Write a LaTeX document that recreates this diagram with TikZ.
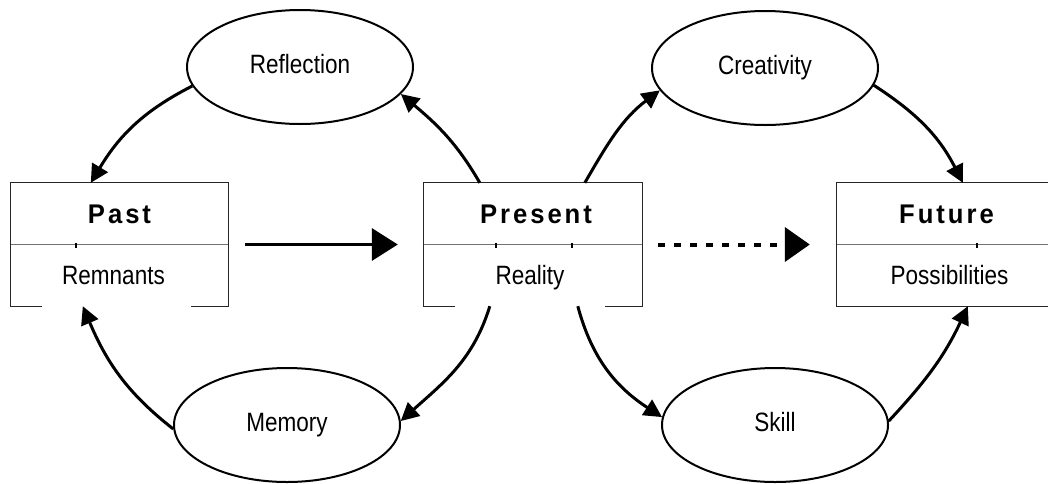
\documentclass[tikz,border=0pt]{standalone}
\usepackage{fontspec}
\setmainfont{Liberation Sans}[FakeStretch=0.85]
\newfontfamily\labfont{Liberation Sans}[FakeStretch=0.95,LetterSpace=11]
\usetikzlibrary{shapes.geometric,arrows.meta,calc}
\begin{document}
\begin{tikzpicture}[x=1pt,y=1pt,
  oval/.style={ellipse,draw,line width=2pt,minimum width=226pt,minimum height=114pt,inner sep=0pt,
    font=\fontsize{26.5}{30}\selectfont,text height=18pt,text depth=5pt},
  boxnode/.style={rectangle,minimum width=217pt,minimum height=123pt,inner sep=0pt},
  frame/.style={line width=1.2pt,draw=black!85},
  divider/.style={line width=1.2pt,draw=black!55},
  curvearrow/.style={line width=3pt,-{Triangle[length=18pt,width=18pt]}},
  title/.style={anchor=base,font=\labfont\bfseries\fontsize{27}{30}\selectfont},
  sub/.style={anchor=base,font=\fontsize{26.5}{30}\selectfont}
]
\useasboundingbox (0,0) rectangle (1048,-483);
% boxes
\node[boxnode] (past) at (119.5,-244.5) {};
\node[boxnode,minimum width=218pt] (present) at (533,-244.5) {};
\node[boxnode,minimum width=218pt] (future) at (946,-244.5) {};
\foreach \b in {past,present}{
  \draw[frame] ($(\b.south west)+(31,0)$) -- (\b.south west) -- (\b.north west) -- (\b.north east) -- (\b.south east) -- ($(\b.south east)+(-37,0)$);
  \draw[divider] (\b.west) -- (\b.east);
}
\draw[frame] (future.south west) rectangle (future.north east);
\draw[divider] (future.west) -- (future.east);
% ticks
\fill ($(past.west)+(64,2)$) rectangle ++(2.5,-5);
\fill ($(present.west)+(71,2)$) rectangle ++(2.5,-5);
\fill ($(present.west)+(147,2)$) rectangle ++(2.5,-5);
\fill ($(future.west)+(139,2)$) rectangle ++(2.5,-5);
% box texts
\node[title] (pastT) at ($(past.north)+(0,-41)$) {Past};
\node[sub] (pastS) at ($(past.north)+(-6,-102)$) {Remnants};
\node[title] (presT) at ($(present.north)+(3,-41)$) {Present};
\node[sub] (presS) at ($(present.north)+(-3,-102)$) {Reality};
\node[title] (futT) at ($(future.north)+(0.5,-41)$) {Future};
\node[sub] (futS) at ($(future.north)+(3.5,-102)$) {Possibilities};
% ellipses
\node[oval] (refl) at (300,-67) {Reflection};
\node[oval] (crea) at (765,-68) {Creativity};
\node[oval] (mem) at (287,-425) {Memory};
\node[oval] (skill) at (775,-425) {Skill};
% curved arrows
\draw[curvearrow] (refl.190) to[out=207,in=59] ($(past.north west)+(80,0)$);
\draw[curvearrow] ($(present.north west)+(56,0)$) to[out=120,in=-40] (refl.-15);
\draw[curvearrow] ($(present.north west)+(161,0)$) to[out=60,in=217] (crea.192);
\draw[curvearrow] (crea.-9) to[out=-33,in=117] ($(future.north west)+(126,0)$);
\draw[curvearrow] ($(present.south west)+(66,0)$) to[out=253,in=42] (mem.2);
\draw[curvearrow] (mem.182) to[out=142,in=-67] ($(past.south west)+(72,0)$);
\draw[curvearrow] ($(present.south west)+(154,0)$) to[out=-75,in=147] (skill.176);
\draw[curvearrow] (skill.2) to[out=47,in=-115] ($(future.south west)+(131,0)$);
% straight arrows
\draw[line width=3.5pt,-{Triangle[length=26pt,width=32pt]},shorten <=17pt,shorten >=26pt] (past.east) -- (present.west);
\draw[line width=4pt,dash pattern=on 7pt off 9pt,-{Triangle[length=25pt,width=34pt]},shorten <=16pt,shorten >=27pt] (present.east) -- (future.west);
\end{tikzpicture}
\end{document}
